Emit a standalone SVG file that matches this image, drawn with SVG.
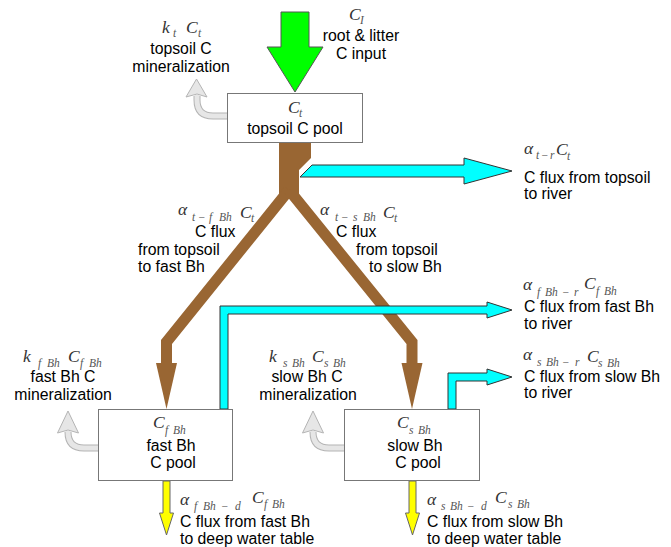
<svg xmlns="http://www.w3.org/2000/svg" width="671" height="547" viewBox="0 0 671 547">
<style>
.t{font-family:"Liberation Sans",Arial,sans-serif;font-size:15.8px;fill:#000}
.c{text-anchor:middle}
.m{font-family:"Liberation Serif","Times New Roman",serif;font-style:italic;font-size:17.5px;fill:#333}
.s{font-size:11.5px;fill:#555}
.box{fill:#fff;stroke:#777;stroke-width:1}
.brown{fill:#996633}
.brownl{fill:none;stroke:#996633;stroke-width:11;stroke-linejoin:miter;stroke-miterlimit:10}
.cyan{fill:#00ffff;stroke:#333;stroke-width:1}
.yel{fill:#ffff00;stroke:#666;stroke-width:1}
.green{fill:#00ff00;stroke:#555;stroke-width:1}
.go{fill:none;stroke:#b4b4b4;stroke-width:7}
.gi{fill:none;stroke:#e6e6e6;stroke-width:5}
.gh{fill:#e6e6e6;stroke:#b4b4b4;stroke-width:1}
</style>
<rect width="671" height="547" fill="#fff"/>
<g id="connectors">
  <path class="go" d="M228,116 H213 Q197,116 197,100 V96"/>
  <path class="gi" d="M228,116 H213 Q197,116 197,100 V95"/>
  <polygon class="gh" points="186,97 196.5,79 207,97 197,94"/>
  <path class="go" d="M99,448 H84 Q68,448 68,432 V432"/>
  <path class="gi" d="M99,448 H84 Q68,448 68,432 V431"/>
  <polygon class="gh" points="57.5,433 68,411 78.5,433 68,430"/>
  <path class="go" d="M345,448 H329 Q313,448 313,432 V432"/>
  <path class="gi" d="M345,448 H329 Q313,448 313,432 V431"/>
  <polygon class="gh" points="302.5,433 313,411 323.5,433 313,430"/>
  <polygon class="green" points="281,12 309,12 309,47 323,47 295,92 267,47 281,47"/>
  <polygon class="brown" points="279,143 311,143 311,158 299,170 299,196 279,196"/>
  <polyline class="brownl" points="289,190 166.5,342 166.5,364"/>
  <polyline class="brownl" points="289,190 412,342 412,364"/>
  <polygon class="brown" points="156,363 177,363 166.5,409"/>
  <polygon class="brown" points="401.5,363 422.5,363 412,409"/>
  <polygon class="cyan" points="312,165 464,165 464,158 512,171 464,184 464,177 300,177"/>
  <polygon class="cyan" points="220,409 220,306 487,306 487,302 512,310 487,318 487,314 228,314 228,409"/>
  <polygon class="cyan" points="448,409 448,373 487,373 487,369 512,377 487,385 487,381 456,381 456,409"/>
  <polygon class="yel" points="163,481 170,481 170,513 173.5,513 166.5,535 159.5,513 163,513"/>
  <polygon class="yel" points="409,481 416,481 416,513 419.5,513 412.5,535 405.5,513 409,513"/>
</g>
<g id="topsoil-pool">
  <rect class="box" x="227.5" y="93.5" width="135" height="49"/>
  <text class="m" x="288" y="113">C<tspan class="s" x="299" y="117">t</tspan></text>
  <text class="t c" x="295" y="133.5">topsoil C pool</text>
</g>
<g id="fast-bh-pool">
  <rect class="box" x="98.5" y="409.5" width="134" height="71"/>
  <text class="m" x="153" y="428">C<tspan class="s" x="165" y="434">f</tspan><tspan class="s" x="173" y="434">Bh</tspan></text>
  <text class="t c" x="171" y="451">fast Bh</text>
  <text class="t c" x="173" y="468">C pool</text>
</g>
<g id="slow-bh-pool">
  <rect class="box" x="344.5" y="409.5" width="135" height="71"/>
  <text class="m" x="397" y="428">C<tspan class="s" x="409" y="434">s</tspan><tspan class="s" x="418" y="434">Bh</tspan></text>
  <text class="t c" x="415" y="451">slow Bh</text>
  <text class="t c" x="418" y="468">C pool</text>
</g>
<g id="label-input">
  <text class="m" x="349" y="20">C<tspan class="s" x="360" y="24">I</tspan></text>
  <text class="t c" x="361" y="41">root &amp; litter</text>
  <text class="t c" x="361" y="59">C input</text>
</g>
<g id="label-topsoil-mineralization">
  <text class="m" x="162" y="33">k<tspan class="s" x="173" y="37">t</tspan><tspan x="186" y="33">C</tspan><tspan class="s" x="198" y="37">t</tspan></text>
  <text class="t c" x="181" y="54">topsoil C</text>
  <text class="t c" x="181" y="72">mineralization</text>
</g>
<g id="label-topsoil-river">
  <text class="m" x="524" y="154">α<tspan class="s" x="536" y="159">t</tspan><tspan class="s" x="541" y="159">−</tspan><tspan class="s" x="550" y="159">r</tspan><tspan x="556" y="155">C</tspan><tspan class="s" x="567" y="160">t</tspan></text>
  <text class="t" x="524" y="183">C flux from topsoil</text>
  <text class="t" x="524" y="199">to river</text>
</g>
<g id="label-topsoil-fast">
  <text class="m" x="178" y="215">α<tspan class="s" x="192" y="221">t</tspan><tspan class="s" x="198" y="221">−</tspan><tspan class="s" x="209" y="221">f</tspan><tspan class="s" x="219" y="221">Bh</tspan><tspan x="240" y="218">C</tspan><tspan class="s" x="251" y="222">t</tspan></text>
  <text class="t" x="195" y="237">C flux</text>
  <text class="t" x="138" y="255">from topsoil</text>
  <text class="t" x="138" y="272">to fast Bh</text>
</g>
<g id="label-topsoil-slow">
  <text class="m" x="320" y="215">α<tspan class="s" x="335" y="221">t</tspan><tspan class="s" x="341" y="221">−</tspan><tspan class="s" x="353" y="221">s</tspan><tspan class="s" x="363" y="221">Bh</tspan><tspan x="383" y="218">C</tspan><tspan class="s" x="394" y="222">t</tspan></text>
  <text class="t" x="336" y="237">C flux</text>
  <text class="t" x="356" y="255">from topsoil</text>
  <text class="t" x="369" y="272">to slow Bh</text>
</g>
<g id="label-fast-river">
  <text class="m" x="523" y="290">α<tspan class="s" x="537" y="296">f</tspan><tspan class="s" x="545" y="296">Bh</tspan><tspan class="s" x="562" y="296">−</tspan><tspan class="s" x="574" y="296">r</tspan><tspan x="584" y="289">C</tspan><tspan class="s" x="596" y="295">f</tspan><tspan class="s" x="604" y="295">Bh</tspan></text>
  <text class="t" x="524" y="312">C flux from fast Bh</text>
  <text class="t" x="524" y="329">to river</text>
</g>
<g id="label-slow-river">
  <text class="m" x="523" y="360">α<tspan class="s" x="537" y="366">s</tspan><tspan class="s" x="546" y="366">Bh</tspan><tspan class="s" x="562" y="366">−</tspan><tspan class="s" x="575" y="366">r</tspan><tspan x="587" y="362">C</tspan><tspan class="s" x="598" y="367">s</tspan><tspan class="s" x="607" y="367">Bh</tspan></text>
  <text class="t" x="524" y="382">C flux from slow Bh</text>
  <text class="t" x="524" y="398">to river</text>
</g>
<g id="label-fast-mineralization">
  <text class="m" x="23" y="362">k<tspan class="s" x="38" y="367">f</tspan><tspan class="s" x="47" y="367">Bh</tspan><tspan x="68" y="362">C</tspan><tspan class="s" x="80" y="367">f</tspan><tspan class="s" x="89" y="367">Bh</tspan></text>
  <text class="t c" x="63" y="382">fast Bh C</text>
  <text class="t c" x="63" y="400">mineralization</text>
</g>
<g id="label-slow-mineralization">
  <text class="m" x="269" y="362">k<tspan class="s" x="283" y="367">s</tspan><tspan class="s" x="292" y="367">Bh</tspan><tspan x="312" y="362">C</tspan><tspan class="s" x="324" y="367">s</tspan><tspan class="s" x="333" y="367">Bh</tspan></text>
  <text class="t c" x="307" y="382">slow Bh C</text>
  <text class="t c" x="308" y="400">mineralization</text>
</g>
<g id="label-fast-deep">
  <text class="m" x="180" y="505">α<tspan class="s" x="194" y="510">f</tspan><tspan class="s" x="203" y="510">Bh</tspan><tspan class="s" x="221" y="510">−</tspan><tspan class="s" x="235" y="510">d</tspan><tspan x="252" y="503">C</tspan><tspan class="s" x="264" y="508">f</tspan><tspan class="s" x="272" y="508">Bh</tspan></text>
  <text class="t" x="180" y="527">C flux from fast Bh</text>
  <text class="t" x="180" y="544">to deep water table</text>
</g>
<g id="label-slow-deep">
  <text class="m" x="427" y="505">α<tspan class="s" x="441" y="510">s</tspan><tspan class="s" x="450" y="510">Bh</tspan><tspan class="s" x="467" y="510">−</tspan><tspan class="s" x="481" y="510">d</tspan><tspan x="495" y="503">C</tspan><tspan class="s" x="508" y="508">s</tspan><tspan class="s" x="517" y="508">Bh</tspan></text>
  <text class="t" x="427" y="527">C flux from slow Bh</text>
  <text class="t" x="427" y="544">to deep water table</text>
</g>
</svg>
